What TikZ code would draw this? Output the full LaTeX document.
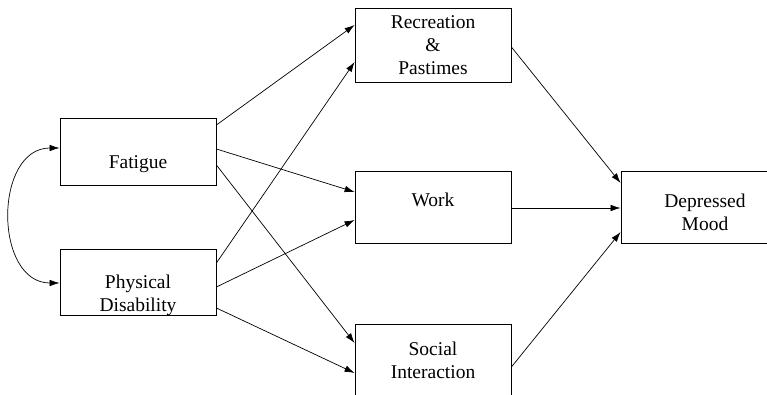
\documentclass[tikz,border=0pt]{standalone}
\usepackage{fontspec}
\setmainfont{Liberation Serif}
\usetikzlibrary{arrows.meta}

\begin{document}
\begin{tikzpicture}[x=1pt,y=1pt]
\tikzstyle{every node}+=[font=\fontsize{19.5}{23}\selectfont, align=center]
\tikzstyle{varbox}=[draw=black, line width=0.8pt, rectangle, inner sep=0pt, minimum width=156pt]
\tikzstyle{path}=[line width=0.7pt, -{Latex[length=10pt,width=6.5pt]}]
\useasboundingbox (0,0) rectangle (767,-395);
\node [varbox, minimum height=67pt] (fat) at (138,-151.5) {\strut\\Fatigue};
\node [varbox, minimum height=63pt] (phys) at (138,-282.5) {\strut\\Physical\\Disability};
\node [varbox, minimum height=74pt] (rec) at (433,-45) {Recreation\\\&\\Pastimes};
\node [varbox, minimum height=72pt, text height=13pt, text depth=14pt] (work) at (433,-207) {Work};
\node [varbox, minimum height=72pt] (soc) at (433,-360) {Social\\Interaction};
\node [varbox, minimum height=72pt, minimum width=168pt] (mood) at (705,-207) {\strut\\[-15pt]Depressed\\Mood};
\draw [path] ([yshift=26.5pt]fat.east) -- ([yshift=20pt]rec.west);
\draw [path] ([yshift=2.5pt]fat.east) -- ([yshift=15pt]work.west);
\draw [path] ([yshift=-13.5pt]fat.east) -- ([yshift=17pt]soc.west);
\draw [path] ([yshift=19.5pt]phys.east) -- ([yshift=-17pt]rec.west);
\draw [path] ([yshift=-4.5pt]phys.east) -- ([yshift=-13pt]work.west);
\draw [path] ([yshift=-25.5pt]phys.east) -- ([yshift=-13pt]soc.west);
\draw [path] ([yshift=-2pt]rec.east) -- ([yshift=24pt]mood.west);
\draw [path] ([yshift=-1pt]work.east) -- ([yshift=-1pt]mood.west);
\draw [path] ([yshift=-7pt]soc.east) -- ([yshift=-25pt]mood.west);
\draw [path, {Latex[length=10pt,width=6.5pt]}-{Latex[length=10pt,width=6.5pt]}] ([yshift=3.5pt]fat.west) to [out=180, in=180, distance=66pt] ([yshift=-0.5pt]phys.west);
\end{tikzpicture}
\end{document}
